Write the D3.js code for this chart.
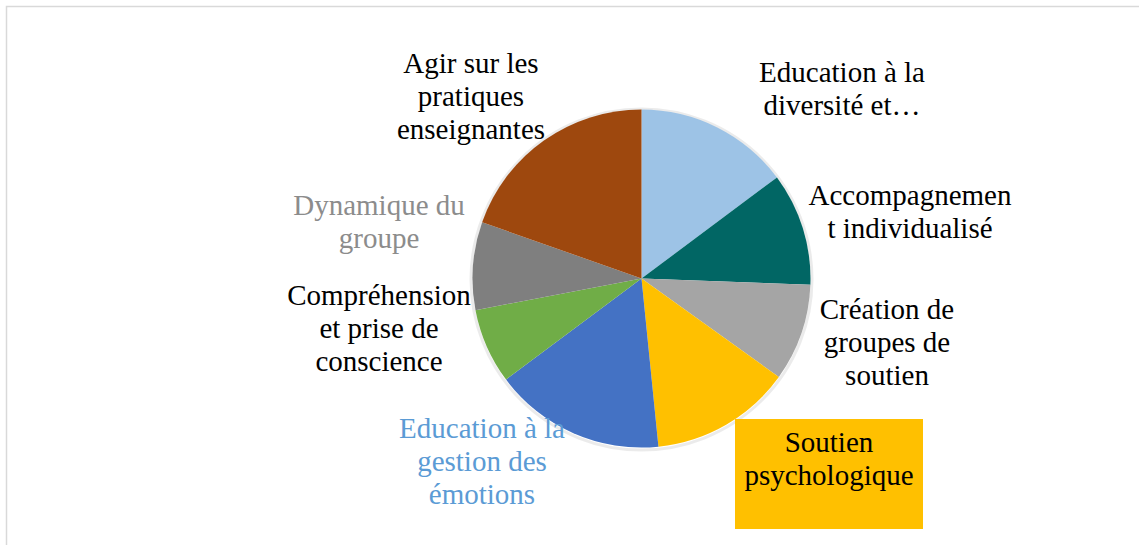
<!DOCTYPE html>
<html>
<head>
<meta charset="utf-8">
<script src="https://cdn.jsdelivr.net/npm/d3@7"></script>
</head>
<body style="margin:0">
<script>
// chart size
const width = 1139,
height = 545;

// categories, clockwise from 12 o'clock
const categories = [
  "Education à la diversité et…",
  "Accompagnement individualisé",
  "Création de groupes de soutien",
  "Soutien psychologique",
  "Education à la gestion des émotions",
  "Compréhension et prise de conscience",
  "Dynamique du groupe",
  "Agir sur les pratiques enseignantes"
];

// share of each category (%)
const values = [14.8, 10.8, 9.3, 13.5, 16.4, 7.2, 8.4, 19.6];

// label text, broken on lines as in the original
const labelLines = [
  ["Education à la", "diversité et…"],
  ["Accompagnemen", "t individualisé"],
  ["Création de", "groupes de", "soutien"],
  ["Soutien", "psychologique"],
  ["Education à la", "gestion des", "émotions"],
  ["Compréhension", "et prise de", "conscience"],
  ["Dynamique du", "groupe"],
  ["Agir sur les", "pratiques", "enseignantes"]
];

const sliceColors = ["#9DC3E6", "#016664", "#A5A5A5", "#FFC000", "#4472C4", "#70AD47", "#7F7F7F", "#9E480E"];

// label placement (centre x, first baseline y) - hand placed like the Excel labels
const labelPos = [
  [842, 82], [910, 205], [887, 319], [829, 452],
  [482, 438], [379, 305], [379, 215], [471, 73]
];
const labelColors = ["#000", "#000", "#000", "#000", "#5B9BD5", "#000", "#8C8C8C", "#000"];

const cx = 641.5, cy = 278.5, radius = 169;
const lineH = 33;

const data = categories.map((c, i) => ({ name: c, value: values[i], lines: labelLines[i] }));

const svg = d3.select("body")
  .append("svg")
  .attr("width", width)
  .attr("height", height);

// chart area border
svg.append("rect")
  .attr("x", 6.5).attr("y", 6.5)
  .attr("width", width + 10).attr("height", height + 10)
  .attr("fill", "#fff")
  .attr("stroke", "#D9D9D9")
  .attr("stroke-width", 1.5);

const pie = d3.pie()
  .value(d => d.value)
  .sort(null);

const arc = d3.arc()
  .innerRadius(0)
  .outerRadius(radius);

// faint halo standing in for Excel's soft shadow
svg.append("circle")
  .attr("cx", cx).attr("cy", cy + 1)
  .attr("r", radius + 1.5)
  .attr("fill", "none")
  .attr("stroke", "#000")
  .attr("stroke-opacity", 0.08)
  .attr("stroke-width", 3);

const pieG = svg.append("g")
  .attr("transform", `translate(${cx},${cy})`);

pieG.selectAll("path.slice")
  .data(pie(data))
  .join("path")
  .attr("class", "slice")
  .attr("d", arc)
  .attr("fill", (d, i) => sliceColors[i]);

// box behind the "Soutien psychologique" label
svg.append("rect")
  .attr("x", 735).attr("y", 419)
  .attr("width", 188).attr("height", 110)
  .attr("fill", "#FFC000");

// labels: one text element per line, centred by measuring
const lineData = data.flatMap((d, i) => d.lines.map((t, j) => ({ t, i, j })));

svg.selectAll("text")
  .data(lineData)
  .join("text")
  .attr("y", d => labelPos[d.i][1] + d.j * lineH)
  .attr("font-size", 29)
  .style("font-family", "'Liberation Serif'")
  .attr("fill", d => labelColors[d.i])
  .text(d => d.t)
  .attr("x", function(d) { return labelPos[d.i][0] - this.getComputedTextLength() / 2; });
</script>
</body>
</html>
